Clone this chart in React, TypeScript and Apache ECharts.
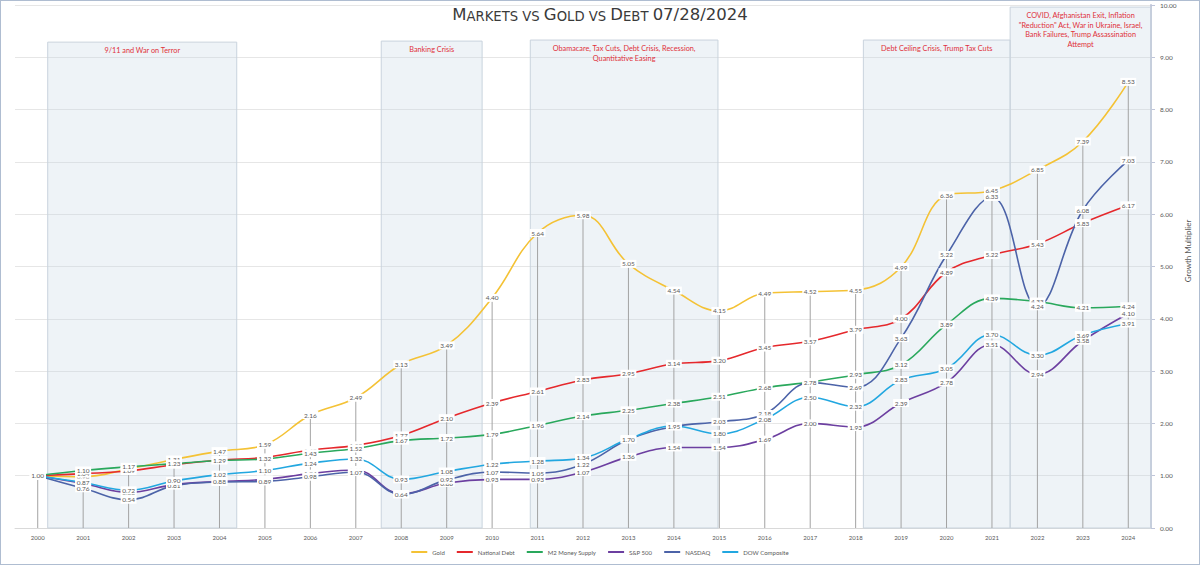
import React, { useEffect, useRef } from 'react';
import * as echarts from 'echarts';

const years = ['2000','2001','2002','2003','2004','2005','2006','2007','2008','2009','2010','2011','2012','2013','2014','2015','2016','2017','2018','2019','2020','2021','2022','2023','2024'];

const gold   = [1.00, 0.98, 1.13, 1.31, 1.47, 1.59, 2.16, 2.49, 3.13, 3.49, 4.40, 5.64, 5.98, 5.05, 4.54, 4.15, 4.49, 4.52, 4.55, 4.99, 6.36, 6.45, 6.85, 7.39, 8.53];
const debt   = [1.00, 1.04, 1.09, 1.21, 1.30, 1.35, 1.49, 1.58, 1.77, 2.10, 2.39, 2.61, 2.83, 2.95, 3.14, 3.20, 3.45, 3.57, 3.79, 4.00, 4.89, 5.22, 5.43, 5.83, 6.17];
const m2     = [1.00, 1.10, 1.17, 1.23, 1.29, 1.32, 1.43, 1.52, 1.67, 1.72, 1.79, 1.96, 2.14, 2.25, 2.38, 2.51, 2.68, 2.79, 2.93, 3.12, 3.89, 4.39, 4.33, 4.21, 4.24];
const sp500  = [1.00, 0.85, 0.68, 0.83, 0.89, 0.93, 1.04, 1.11, 0.65, 0.86, 0.93, 0.93, 1.07, 1.36, 1.54, 1.54, 1.69, 2.00, 1.93, 2.39, 2.78, 3.51, 2.94, 3.58, 4.10];
const nasdaq = [1.00, 0.76, 0.54, 0.81, 0.88, 0.89, 0.98, 1.07, 0.64, 0.92, 1.07, 1.05, 1.22, 1.69, 1.94, 2.03, 2.18, 2.78, 2.69, 3.63, 5.22, 6.33, 4.24, 6.08, 7.03];
const dow    = [1.00, 0.87, 0.72, 0.90, 1.02, 1.10, 1.24, 1.32, 0.93, 1.08, 1.22, 1.28, 1.34, 1.70, 1.95, 1.80, 2.08, 2.50, 2.32, 2.83, 3.05, 3.70, 3.30, 3.69, 3.91];

const seriesNames = ['Gold', 'National Debt', 'M2 Money Supply', 'S&P 500', 'NASDAQ', 'DOW Composite'];
const seriesData = [gold, debt, m2, sp500, nasdaq, dow];
const seriesColors = ['#F4C235', '#E5282C', '#29A85C', '#6C3FA0', '#4C63A8', '#22A7E0'];

// Event periods: start/end in category-index units, top in y value
const regionNames = [
  '9/11 and War on Terror',
  'Banking Crisis',
  'Obamacare, Tax Cuts, Debt Crisis, Recession,\nQuantitative Easing',
  'Debt Ceiling Crisis, Trump Tax Cuts',
  'COVID, Afghanistan Exit, Inflation\n"Reduction" Act, War in Ukraine, Israel,\nBank Failures, Trump Assassination\nAttempt',
];
const regionStart = [0.22, 7.56, 10.84, 18.17, 21.40];
const regionEnd = [4.38, 9.78, 14.97, 21.40, 24.5];
const regionTop = [9.29, 9.31, 9.33, 9.33, 9.96];

const FONT = 'Lato, "Open Sans", sans-serif';
const TITLE_FONT = '"DejaVu Sans", sans-serif';

export default function App() {
  const ref = useRef<HTMLDivElement>(null);
  useEffect(() => {
    document.body.style.margin = '0';
    const chart = echarts.init(ref.current as HTMLDivElement, null, { renderer: 'svg' });
    const drops = years.map((_, i) => Math.max(...seriesData.map((s) => s[i])));

    const lineSeries: any[] = [];
    const labelSeries: any[] = [];
    seriesNames.forEach((name, k) => {
      lineSeries.push({
        type: 'line',
        name,
        data: seriesData[k],
        smooth: 0.4,
        symbol: 'none',
        color: seriesColors[k],
        lineStyle: { width: 1.6, color: seriesColors[k] },
        z: 3,
        silent: true,
      });
      labelSeries.push({
        type: 'line',
        name,
        data: seriesData[k],
        symbol: 'circle',
        symbolSize: 1,
        color: seriesColors[k],
        itemStyle: { color: seriesColors[k] },
        lineStyle: { width: 0, opacity: 0 },
        z: 4,
        silent: true,
        label: {
          show: true,
          position: 'inside',
          formatter: (p: any) => Number(p.value).toFixed(2),
          fontSize: 6.5,
          fontFamily: FONT,
          color: '#595959',
          backgroundColor: '#ffffff',
          padding: [1, 1.5, 0, 1.5],
        },
      });
    });

    const option: any = {
      animation: false,
      backgroundColor: '#ffffff',
      textStyle: { fontFamily: FONT },
      title: {
        text: '{a|M}{b|ARKETS VS }{a|G}{b|OLD VS }{a|D}{b|EBT }{a|07/28/2024}',
        left: 'center',
        top: 0,
        textStyle: {
          fontWeight: 'normal',
          rich: {
            a: { fontSize: 16.5, fontFamily: TITLE_FONT, fontWeight: 'normal', color: '#3a3a3a', verticalAlign: 'bottom', lineHeight: 18 },
            b: { fontSize: 13.2, fontFamily: TITLE_FONT, fontWeight: 'normal', color: '#3a3a3a', verticalAlign: 'bottom', lineHeight: 18 },
          },
        },
      },
      legend: {
        data: seriesNames,
        bottom: 5,
        left: 'center',
        icon: 'rect',
        itemWidth: 16,
        itemHeight: 2,
        itemGap: 12,
        textStyle: { fontSize: 6, color: '#595959', fontFamily: FONT },
      },
      grid: { left: 15, right: 49, top: 5, bottom: 37, containLabel: false },
      xAxis: [
        {
          type: 'category',
          data: years,
          boundaryGap: true,
          axisLine: { show: true, lineStyle: { color: '#D9D9D9' } },
          axisTick: { show: false },
          axisLabel: { fontSize: 6, color: '#595959', margin: 6, interval: 0, fontFamily: FONT },
        },
        { type: 'value', min: -0.5, max: 24.5, show: false },
      ],
      yAxis: {
        type: 'value',
        position: 'right',
        min: 0,
        max: 10,
        interval: 1,
        axisLine: { show: true, onZero: false, lineStyle: { color: '#C3C8DA', width: 2 } },
        axisTick: { show: true, length: 4, lineStyle: { color: '#BFC5D9' } },
        axisLabel: { fontSize: 6.5, color: '#595959', margin: 9, formatter: (v: number) => v.toFixed(2), fontFamily: FONT },
        splitLine: { show: true, lineStyle: { color: '#E6E6E6', width: 1 } },
      },
      graphic: [
        {
          type: 'text',
          x: 1188,
          y: 251,
          rotation: Math.PI / 2,
          style: { text: 'Growth Multiplier', fontSize: 8, fill: '#595959', fontFamily: FONT, align: 'center', verticalAlign: 'middle' },
        },
      ],
      series: [
        {
          type: 'line',
          name: 'regions',
          xAxisIndex: 1,
          yAxisIndex: 0,
          data: [],
          silent: true,
          z: 1,
          markArea: {
            silent: true,
            itemStyle: { color: 'rgba(200,215,228,0.3)', borderColor: '#C9D3DD', borderWidth: 1 },
            label: { show: true, position: 'insideTop', distance: 4, color: '#E0303A', fontSize: 7.3, lineHeight: 9.7, fontFamily: FONT, align: 'center' },
            data: regionNames.map((n, i) => [
              { name: n, xAxis: regionStart[i], yAxis: regionTop[i] },
              { xAxis: regionEnd[i], yAxis: 0 },
            ]),
          },
        },
        {
          type: 'bar',
          name: 'drop',
          data: drops,
          barWidth: 1,
          itemStyle: { color: '#A3A3A3' },
          silent: true,
          z: 2,
        },
        ...lineSeries,
        ...labelSeries,
      ],
    };
    chart.setOption(option);
    return () => chart.dispose();
  }, []);
  return (
    <div style={{ position: 'relative', width: 1200, height: 565 }}>
      <div ref={ref} style={{ width: 1200, height: 565 }} />
      <div style={{ position: 'absolute', left: 0, top: 0, width: 1200, height: 565, border: '1px solid #AFBDD1', boxSizing: 'border-box', pointerEvents: 'none' }} />
    </div>
  );
}
